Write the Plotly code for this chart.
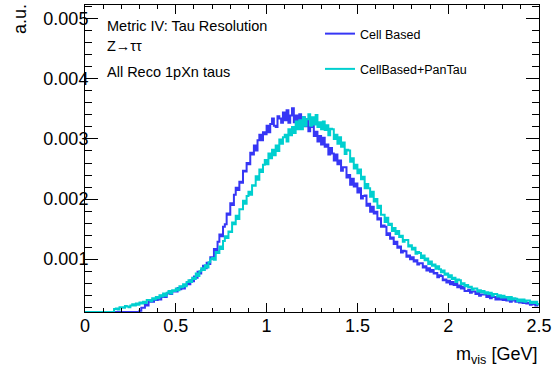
import numpy as np
import plotly.graph_objects as go

# Histogram binning: 250 bins from 0 to 2.5 GeV
BIN_LO, BIN_HI, NBINS = 0.0, 2.5, 250

# Bin contents in units of 1e-5 (a.u.)
cell_based = [
    12, 12, 12, 12, 12, 12, 12, 12, 12, 12,
    12, 12, 12, 12, 12, 12, 12, 12, 12, 12,
    12, 12, 12, 12, 12, 12, 12, 12, 12, 12,
    14, 19, 19, 24, 23, 29, 29, 29, 33, 32,
    35, 33, 39, 37, 37, 43, 45, 42, 46, 46,
    46, 52, 50, 54, 51, 57, 61, 58, 65, 63,
    71, 69, 79, 76, 82, 89, 85, 94, 92, 103,
    102, 117, 115, 129, 141, 138, 154, 158, 176, 174,
    193, 190, 207, 219, 215, 229, 227, 247, 246, 260,
    258, 277, 274, 289, 281, 298, 307, 298, 311, 308,
    322, 311, 325, 334, 322, 320, 338, 334, 327, 344,
    331, 348, 327, 339, 351, 328, 339, 323, 341, 327,
    336, 321, 333, 313, 320, 323, 305, 312, 296, 305,
    291, 302, 287, 291, 274, 285, 276, 264, 274, 258,
    264, 247, 253, 253, 236, 240, 224, 234, 221, 226,
    211, 218, 201, 205, 206, 189, 192, 179, 187, 176,
    179, 166, 168, 154, 156, 154, 140, 143, 134, 136,
    125, 129, 119, 121, 111, 114, 113, 104, 106, 100,
    103, 96, 98, 91, 93, 93, 86, 88, 81, 85,
    79, 82, 76, 77, 70, 73, 72, 65, 66, 61,
    64, 58, 62, 57, 59, 53, 56, 51, 54, 47,
    47, 49, 44, 46, 46, 42, 44, 39, 41, 41,
    41, 37, 39, 35, 38, 37, 33, 37, 33, 35,
    32, 35, 31, 33, 29, 33, 31, 29, 31, 28,
    30, 27, 29, 26, 27, 24, 27, 25, 23, 25,
]

cellbased_pantau = [
    12, 12, 12, 12, 12, 12, 12, 12, 12, 12,
    12, 12, 12, 12, 12, 12, 17, 18, 16, 20,
    20, 19, 22, 21, 20, 23, 25, 23, 26, 24,
    28, 26, 29, 27, 32, 32, 30, 35, 33, 37,
    35, 40, 38, 43, 39, 44, 47, 43, 48, 47,
    51, 48, 55, 53, 58, 55, 62, 65, 62, 69,
    67, 76, 72, 80, 85, 82, 90, 86, 95, 100,
    102, 99, 112, 110, 121, 117, 130, 138, 135, 146,
    145, 161, 158, 172, 167, 183, 183, 197, 192, 205,
    212, 207, 223, 222, 238, 232, 249, 245, 257, 265,
    258, 276, 268, 282, 273, 289, 280, 299, 292, 303,
    307, 296, 316, 306, 320, 310, 329, 316, 331, 316,
    336, 322, 333, 341, 322, 336, 324, 340, 320, 328,
    316, 329, 315, 323, 306, 317, 316, 300, 307, 292,
    303, 287, 294, 275, 282, 281, 262, 268, 251, 257,
    243, 249, 233, 237, 218, 225, 218, 204, 212, 196,
    200, 185, 189, 174, 174, 162, 169, 157, 159, 147,
    152, 142, 147, 137, 139, 129, 132, 132, 121, 123,
    116, 119, 109, 112, 110, 102, 106, 98, 101, 92,
    96, 89, 91, 84, 88, 83, 78, 81, 74, 76,
    70, 73, 67, 69, 62, 66, 65, 58, 60, 55,
    57, 53, 54, 49, 51, 51, 46, 48, 45, 47,
    43, 45, 42, 44, 39, 42, 42, 38, 40, 36,
    39, 36, 37, 33, 37, 33, 35, 34, 30, 33,
    30, 33, 29, 31, 31, 27, 29, 27, 29, 25,
]

series_names = ["Cell Based", "CellBased+PanTau"]
series_colors = ["#3636f5", "#00cfcf"]
y_tick_vals = [0.001, 0.002, 0.003, 0.004, 0.005]
y_tick_text = ["0.001", "0.002", "0.003", "0.004", "0.005"]
x_tick_vals = [0, 0.5, 1, 1.5, 2, 2.5]
x_tick_text = ["0", "0.5", "1", "1.5", "2", "2.5"]

edges = np.linspace(BIN_LO, BIN_HI, NBINS + 1)

FONT = "Liberation Sans, Arial, Helvetica, sans-serif"

fig = go.Figure()
for name, vals, col in zip(series_names, [cell_based, cellbased_pantau], series_colors):
    y = np.array(vals, dtype=float) * 1e-5
    fig.add_trace(go.Scatter(
        x=edges, y=np.append(y, y[-1]),
        mode="lines", line=dict(color=col, width=2, shape="hv"),
        name=name, legendgroup=name,
    ))

# plot area in pixels: x 85..539, y 5..312
L, R, T, B = 85, 539, 5, 312
W, H = 559, 373

def px(xp):
    return (xp - L) / (R - L)

def py(yp):
    return (B - yp) / (B - T)

fig.update_layout(
    width=W, height=H,
    margin=dict(l=L, r=W - R, t=T, b=H - B),
    paper_bgcolor="white", plot_bgcolor="white",
    font=dict(family=FONT, color="black", size=18),
    showlegend=True,
    legend=dict(
        x=px(320), y=py(19), xanchor="left", yanchor="top",
        font=dict(size=12.5, family=FONT),
        bgcolor="rgba(0,0,0,0)", tracegroupgap=16,
        traceorder="grouped",
    ),
    xaxis=dict(
        range=[0, 2.5], showgrid=False, zeroline=False,
        showline=True, linecolor="black", linewidth=1, mirror="allticks",
        ticks="inside", ticklen=9, tickcolor="black", tickwidth=1,
        tickvals=x_tick_vals, ticktext=x_tick_text,
        tickfont=dict(size=18, family=FONT), ticklabelstandoff=-3,
        minor=dict(ticks="inside", ticklen=4, dtick=0.1, tickcolor="black", showgrid=False),
    ),
    yaxis=dict(
        range=[0.00012, 0.00523], showgrid=False, zeroline=False,
        showline=True, linecolor="black", linewidth=1, mirror="allticks",
        ticks="inside", ticklen=13, tickcolor="black", tickwidth=1,
        tickvals=y_tick_vals, ticktext=y_tick_text,
        tickfont=dict(size=18, family=FONT), ticklabelstandoff=-8,
        minor=dict(ticks="inside", ticklen=7, dtick=0.0002, tick0=0, tickcolor="black", showgrid=False),
    ),
)

ann = [
    dict(text="Metric IV: Tau Resolution", x=px(105), y=py(26)),
    dict(text="Z\u2192\u03c4\u03c4", x=px(105), y=py(46)),
    dict(text="All Reco 1pXn taus", x=px(105), y=py(72)),
]
for a in ann:
    fig.add_annotation(xref="paper", yref="paper", xanchor="left", yanchor="middle",
                       showarrow=False, font=dict(size=14.5, family=FONT), **a)

fig.add_annotation(text="a.u.", xref="paper", yref="paper", x=px(20), y=py(19),
                   xanchor="center", yanchor="middle", textangle=-90, showarrow=False,
                   font=dict(size=18, family=FONT))
fig.add_annotation(text="m<sub>vis</sub> [GeV]", xref="paper", yref="paper", x=1.0, y=py(355),
                   xanchor="right", yanchor="middle", showarrow=False,
                   font=dict(size=18, family=FONT))

fig.write_html("out.html", config={"displayModeBar": False},
               post_script="document.body.style.margin='0px';")
